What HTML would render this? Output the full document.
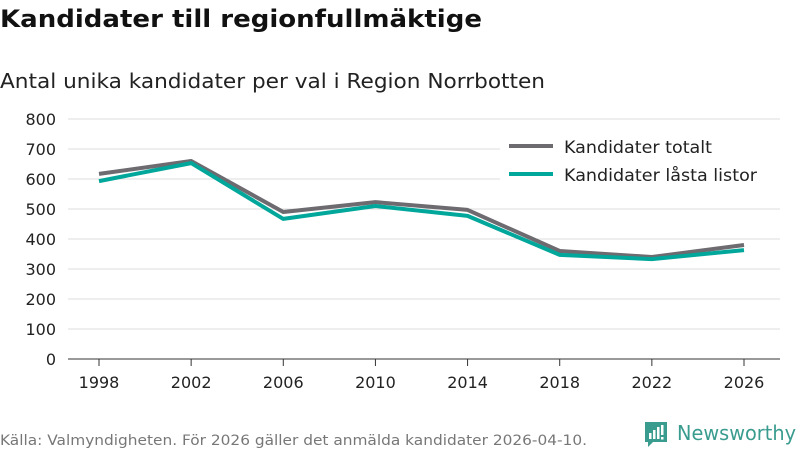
<!DOCTYPE html>
<html><head><meta charset="utf-8"><style>
body{margin:0;background:#fff;font-family:"DejaVu Sans","Liberation Sans",sans-serif;}
svg text{font-family:"DejaVu Sans","Liberation Sans",sans-serif;}
</style></head><body>
<svg id="c" width="800" height="450" xmlns="http://www.w3.org/2000/svg">
<text x="0" y="27" font-size="24" font-weight="bold" fill="#111" textLength="482" lengthAdjust="spacingAndGlyphs">Kandidater till regionfullmäktige</text>
<text x="0" y="88" font-size="20" fill="#222" textLength="545" lengthAdjust="spacingAndGlyphs">Antal unika kandidater per val i Region Norrbotten</text>
<g id="grid"></g><g id="lines"></g>
<g>
<rect x="500" y="130" width="280" height="58" fill="#fff"/>
<line x1="509" y1="146" x2="553" y2="146" stroke="#6d6a70" stroke-width="4"/>
<text x="564" y="153" font-size="17" fill="#222" textLength="148" lengthAdjust="spacingAndGlyphs">Kandidater totalt</text>
<line x1="509" y1="174" x2="553" y2="174" stroke="#00a79a" stroke-width="4"/>
<text x="564" y="181" font-size="17" fill="#222" textLength="193" lengthAdjust="spacingAndGlyphs">Kandidater låsta listor</text>
</g>
<text x="0" y="445" font-size="14" fill="#777" textLength="587" lengthAdjust="spacingAndGlyphs">Källa: Valmyndigheten. För 2026 gäller det anmälda kandidater 2026-04-10.</text>
<g>
<path d="M645 422 h22 v20 h-14 l-5 5 v-5 h-3 z" fill="#3a9c8f"/>
<rect x="649" y="433" width="2.5" height="6" fill="#fff"/><rect x="653" y="430" width="2.5" height="9" fill="#fff"/><rect x="657" y="427" width="2.5" height="12" fill="#fff"/><rect x="661" y="425" width="2.5" height="10" fill="#fff"/><rect x="661" y="437" width="2.5" height="2.5" fill="#fff"/>
<text x="677" y="440" font-size="20" fill="#3a9c8f" textLength="119" lengthAdjust="spacingAndGlyphs">Newsworthy</text>
</g>
</svg>
<script>
const years=["1998","2002","2006","2010","2014","2018","2022","2026"];
const totalt=[617,660,490,523,497,360,340,380];
const lasta=[593,653,467,510,477,347,333,363];
const yTicks=[0,100,200,300,400,500,600,700,800];
const NS="http://www.w3.org/2000/svg";
const x=i=>99+i*(744-99)/(years.length-1);
const y=v=>359-v*0.3;
const grid=document.getElementById('grid'),lines=document.getElementById('lines');
function mk(t,a,p){const e=document.createElementNS(NS,t);for(const k in a)e.setAttribute(k,a[k]);p.appendChild(e);return e;}
yTicks.forEach(v=>{
 const l=mk('line',{x1:68,x2:780,y1:y(v),y2:y(v),stroke:v===0?'#333':'#ddd','stroke-width':1},grid);
 
 
 const t=mk('text',{x:56,y:y(v)+6,'font-size':16,fill:'#222','text-anchor':'end'},grid);t.textContent=v;
 
 
});
years.forEach((yr,i)=>{
 const l=mk('line',{x1:x(i),x2:x(i),y1:359,y2:366,stroke:'#333'},grid);
 
 
 const t=mk('text',{x:x(i),y:388,'font-size':16,fill:'#222','text-anchor':'middle'},grid);t.textContent=yr;
 
 
});
[[totalt,'#6d6a70','line-totalt'],[lasta,'#00a79a','line-lasta']].forEach(([d,c,n])=>{
 const p=mk('polyline',{points:d.map((v,i)=>x(i)+','+y(v)).join(' '),fill:'none',stroke:c,'stroke-width':4,'stroke-linejoin':'round'},lines);
 
 
});
</script>
</body></html>
